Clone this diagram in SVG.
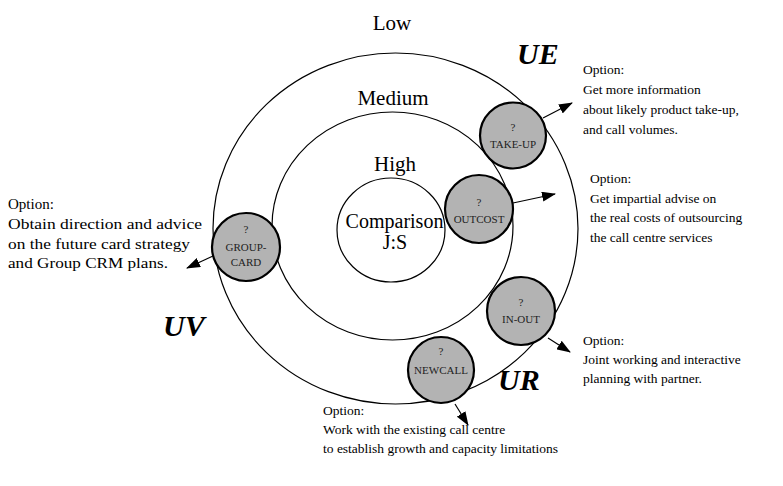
<svg xmlns="http://www.w3.org/2000/svg" width="783" height="486" viewBox="0 0 783 486">
<defs>
<marker id="ah" markerWidth="14" markerHeight="10" refX="13" refY="5" orient="auto" markerUnits="userSpaceOnUse">
<path d="M0,0 L14,5 L0,10 Z" fill="#000"/>
</marker>
<style>
.ring{fill:none;stroke:#000;stroke-width:1.2}
.node{fill:#b3b3b3;stroke:#000;stroke-width:2.2}
.nt{font-family:"Liberation Serif",serif;font-size:11px;fill:#222;text-anchor:middle}
.lv{font-family:"Liberation Serif",serif;font-size:21px;fill:#000;text-anchor:middle}
.opt{font-family:"Liberation Serif",serif;font-size:13.5px;fill:#000}
.optl{font-family:"Liberation Serif",serif;font-size:15px;fill:#000}
.big{font-family:"Liberation Serif",serif;font-size:30px;font-weight:bold;font-style:italic;fill:#000}
.conn{stroke:#000;stroke-width:1.2;fill:none;marker-end:url(#ah)}
</style>
</defs>
<rect width="783" height="486" fill="#fff"/>
<g id="rings">
<ellipse class="ring" cx="395.5" cy="228.5" rx="182.5" ry="175.5"/>
<ellipse class="ring" cx="392.5" cy="226" rx="120.5" ry="114"/>
<ellipse class="ring" cx="391" cy="230" rx="54" ry="52"/>
</g>
<g id="levels">
<text class="lv" x="392" y="30">Low</text>
<text class="lv" x="393" y="105">Medium</text>
<text class="lv" x="395" y="171">High</text>
<text class="lv" x="394.5" y="228" style="font-size:20px">Comparison</text>
<text class="lv" x="395" y="249" style="font-size:20px">J:S</text>
</g>
<g id="connectors">
<line class="conn" x1="543" y1="118" x2="572" y2="103"/>
<line class="conn" x1="513" y1="203" x2="555" y2="194"/>
<line class="conn" x1="213" y1="256" x2="187" y2="268"/>
<line class="conn" x1="548" y1="338" x2="570" y2="352"/>
<line class="conn" x1="455" y1="404" x2="468" y2="425"/>
</g>
<g id="take-up">
<circle class="node" cx="513" cy="135.5" r="33"/>
<text class="nt" x="513" y="131">?</text>
<text class="nt" x="513" y="148">TAKE-UP</text>
</g>
<g id="outcost">
<circle class="node" cx="479" cy="209" r="34"/>
<text class="nt" x="479" y="206">?</text>
<text class="nt" x="479" y="223">OUTCOST</text>
</g>
<g id="group-card">
<circle class="node" cx="246" cy="247" r="34"/>
<text class="nt" x="246" y="233">?</text>
<text class="nt" x="246" y="251">GROUP-</text>
<text class="nt" x="246" y="266">CARD</text>
</g>
<g id="in-out">
<circle class="node" cx="521" cy="311" r="34"/>
<text class="nt" x="521" y="306">?</text>
<text class="nt" x="521" y="323">IN-OUT</text>
</g>
<g id="newcall">
<circle class="node" cx="441" cy="370" r="33"/>
<text class="nt" x="441" y="355">?</text>
<text class="nt" x="441" y="374">NEWCALL</text>
</g>
<g id="zones">
<text class="big" x="517" y="64">UE</text>
<text class="big" x="163" y="336">UV</text>
<text class="big" x="498" y="390">UR</text>
</g>
<g id="options">
<text class="opt" x="583" y="74">Option:</text>
<text class="opt" x="583" y="94">Get more information</text>
<text class="opt" x="583" y="114">about likely product take-up,</text>
<text class="opt" x="583" y="134">and call volumes.</text>
<text class="opt" x="590" y="183">Option:</text>
<text class="opt" x="590" y="203">Get impartial advise on</text>
<text class="opt" x="590" y="222">the real costs of outsourcing</text>
<text class="opt" x="590" y="242">the call centre services</text>
<text class="optl" x="8" y="209">Option:</text>
<text class="optl" x="8" y="229" textLength="194" lengthAdjust="spacingAndGlyphs">Obtain direction and advice</text>
<text class="optl" x="8" y="249" textLength="182" lengthAdjust="spacingAndGlyphs">on the future card strategy</text>
<text class="optl" x="8" y="268" textLength="160" lengthAdjust="spacingAndGlyphs">and Group CRM plans.</text>
<text class="opt" x="583" y="345">Option:</text>
<text class="opt" x="583" y="364">Joint working and interactive</text>
<text class="opt" x="583" y="383">planning with partner.</text>
<text class="opt" x="323" y="415">Option:</text>
<text class="opt" x="323" y="434">Work with the existing call centre</text>
<text class="opt" x="323" y="453">to establish growth and capacity limitations</text>
</g>
</svg>
